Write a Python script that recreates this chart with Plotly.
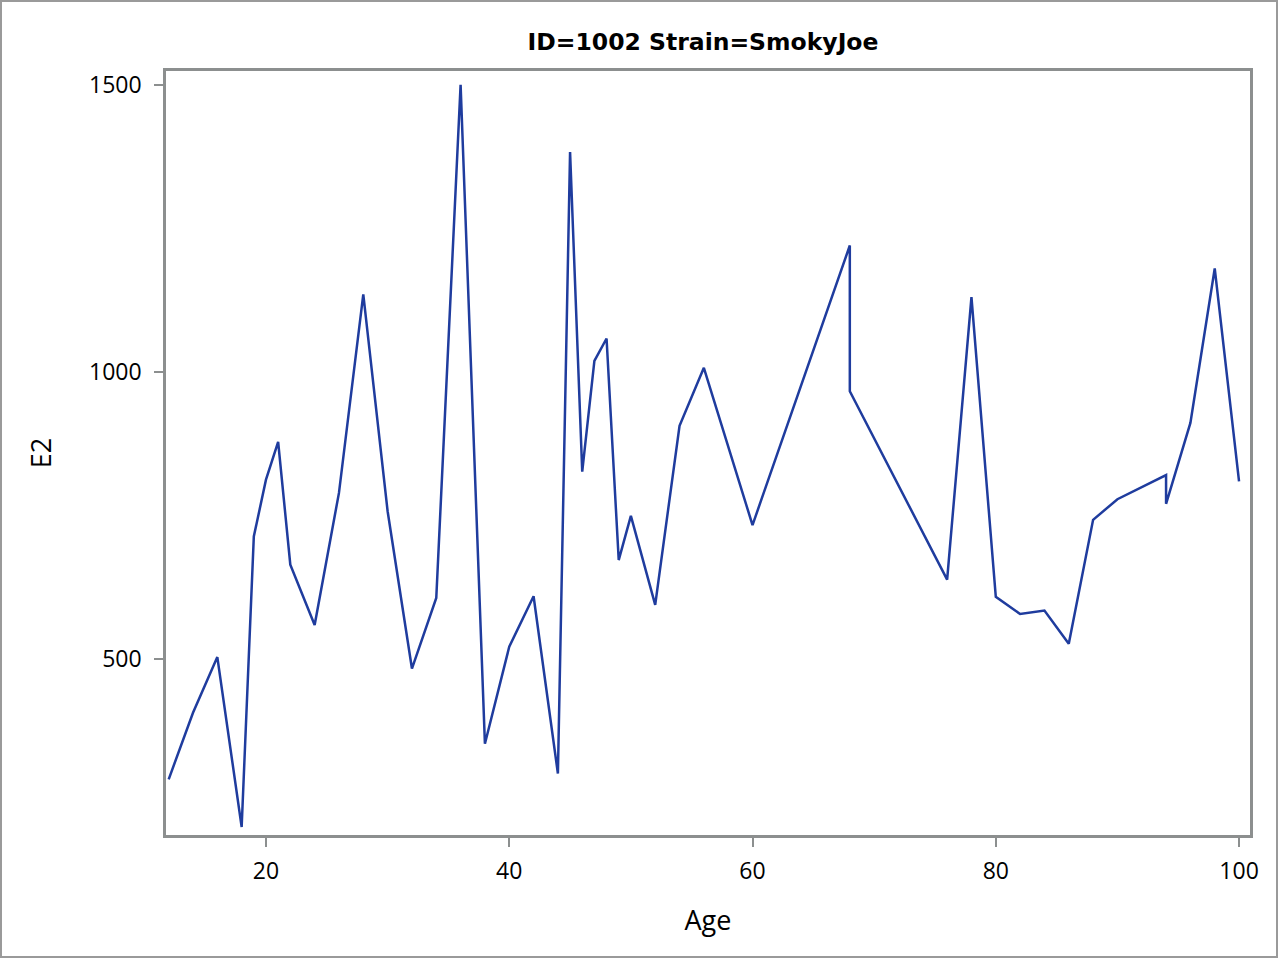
import plotly.graph_objects as go

age = [12, 14, 16, 18, 19, 20, 21, 22, 24, 26, 28, 30, 32, 34, 36, 38, 40, 42, 44, 45,
       46, 47, 48, 49, 50, 52, 54, 56, 60, 68, 68, 76, 78, 80, 82, 84, 86, 88, 90, 94,
       94, 96, 98, 100]
e2 = [290, 406, 503, 207, 713, 812, 878, 664, 559, 789, 1135, 757, 483, 606, 1500, 352, 521, 609, 300, 1383,
      826, 1019, 1058, 672, 749, 594, 906, 1007, 733, 1220, 966, 638, 1130, 608, 578, 584, 526, 742, 778, 820,
      770, 911, 1180, 809]

title_text = "ID=1002 Strain=SmokyJoe"
x_title = "Age"
y_title = "E2"
x_ticks = [20, 40, 60, 80, 100]
y_ticks = [500, 1000, 1500]

W, H = 1279, 959
L, R, T, B = 166, 29, 71, 124
pw, ph = W - L - R, H - T - B

fig = go.Figure()
fig.add_trace(go.Scatter(x=age, y=e2, mode="lines",
                         line=dict(color="#1f3c9e", width=2.5),
                         showlegend=False))

axis_color = "#8c8f8f"
font_family = "Open Sans, Liberation Sans, Arial, sans-serif"

fig.update_layout(
    width=W, height=H,
    margin=dict(l=L, r=R, t=T, b=B, pad=0),
    paper_bgcolor="white", plot_bgcolor="white",
    title=dict(text="<b>" + title_text + "</b>", x=703 / W, xanchor="center",
               y=1 - 42 / H, yanchor="middle",
               font=dict(family="DejaVu Sans, sans-serif", size=23.5, color="black")),
    font=dict(family=font_family, color="black"),
    xaxis=dict(range=[11.78, 100.9], tickvals=x_ticks, ticks="outside", ticklen=9,
               tickwidth=2, tickcolor=axis_color, showgrid=False, zeroline=False,
               showline=True, linecolor=axis_color, linewidth=2.5, mirror=True,
               ticklabelstandoff=5,
               tickfont=dict(size=23), title=dict(text=x_title, font=dict(size=27), standoff=26)),
    yaxis=dict(range=[193, 1524], tickvals=y_ticks, ticks="outside", ticklen=9,
               tickwidth=2, tickcolor=axis_color, showgrid=False, zeroline=False,
               showline=True, linecolor=axis_color, linewidth=2.5, mirror=True,
               ticklabelstandoff=8,
               tickfont=dict(size=23), title=dict(text=y_title, font=dict(size=27), standoff=30)),
)

fig.add_shape(type="rect", xref="paper", yref="paper",
              x0=-(L - 1) / pw, x1=1 + (R - 2) / pw, y0=-(B - 2) / ph, y1=1 + (T - 1) / ph,
              line=dict(color="#9a9a9a", width=2), fillcolor="rgba(0,0,0,0)", layer="below")

fig.write_html("out.html", config={"displayModeBar": False},
               post_script="document.body.style.margin='0';")
